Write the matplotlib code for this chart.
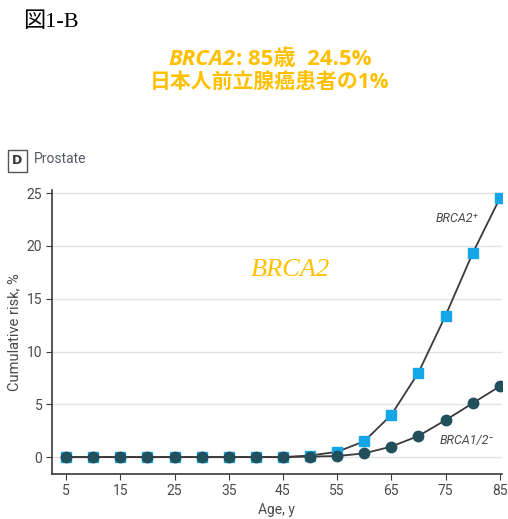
import matplotlib.pyplot as plt

ages = [5, 10, 15, 20, 25, 30, 35, 40, 45, 50, 55, 60, 65, 70, 75, 80, 85]
brca2_pos = [0, 0, 0, 0, 0, 0, 0, 0, 0, 0.15, 0.5, 1.5, 4.0, 8.0, 13.4, 19.3, 24.5]
brca12_neg = [0, 0, 0, 0, 0, 0, 0, 0, 0, 0.05, 0.1, 0.35, 1.0, 2.0, 3.5, 5.1, 6.7]
x_ticks = [5, 15, 25, 35, 45, 55, 65, 75, 85]
y_ticks = [0, 5, 10, 15, 20, 25]

narrow = ['Roboto', 'DejaVu Sans']
head = ['Open Sans', 'Noto Sans CJK JP']
gold = '#ffc000'
grey = '#4a4a4a'

fig = plt.figure(figsize=(5.08, 5.19), dpi=100)
ax = fig.add_axes([0.1024, 0.0867, 0.8856, 0.5473])

ax.plot(ages, brca2_pos, color='#3a3a3a', lw=1.3, marker='s', ms=7.5,
        mfc='#14a6e6', mec='#14a6e6', zorder=3)
ax.plot(ages, brca12_neg, color='#3a3a3a', lw=1.3, marker='o', ms=7.5,
        mfc='#214f5c', mec='#214f5c', zorder=4)

ax.set_xlim(2.4, 85.4)
ax.set_ylim(-1.6, 25.3)
ax.set_xticks(x_ticks)
ax.set_yticks(y_ticks)
for s in ['top', 'right']:
    ax.spines[s].set_visible(False)
for s in ['left', 'bottom']:
    ax.spines[s].set_color('#3a3a3a')
    ax.spines[s].set_linewidth(1.2)
ax.yaxis.grid(True, color='#e3e3e3', lw=1)
ax.set_axisbelow(True)
ax.tick_params(colors='#3a3a3a', labelcolor=grey, length=4, labelsize=10, pad=3)
for lab in ax.get_xticklabels() + ax.get_yticklabels():
    lab.set_family(narrow)
ax.set_xlabel('Age, y', family=narrow, fontsize=10, color=grey, labelpad=4)
ax.set_ylabel('Cumulative risk, %', family=narrow, fontsize=10.5, color=grey, labelpad=4)

ax.text(81, 22.6, 'BRCA2\u207a', family=narrow, style='italic', fontsize=9,
        color=grey, ha='right', va='center')
ax.text(78.9, 1.6, 'BRCA1/2\u207b', family=narrow, style='italic', fontsize=9,
        color=grey, ha='center', va='center')
ax.text(46.3, 17.7, 'BRCA2', family='Liberation Serif', style='italic',
        fontsize=19, color=gold, ha='center', va='center')

# headings above the chart
fig.text(23 / 508, 1 - 22 / 519, '図1-B', family=['Liberation Serif', 'Noto Sans CJK JP'],
         fontsize=16, color='black', ha='left', va='center')
fig.text(236 / 508, 1 - 60 / 519, 'BRCA2', family=head, style='italic',
         weight='bold', fontsize=16, color=gold, ha='right', va='center')
fig.text(236 / 508, 1 - 60 / 519, ': 85歳  24.5%', family=head,
         weight='bold', fontsize=16, color=gold, ha='left', va='center')
fig.text(270 / 508, 1 - 82 / 519, '日本人前立腺癌患者の1%', family=head,
         weight='bold', fontsize=15, color=gold, ha='center', va='center')

fig.text(17 / 508, 1 - 161 / 519, 'D', family='DejaVu Sans', weight='bold',
         fontsize=9, color='#333333', ha='center', va='center',
         bbox=dict(boxstyle='square,pad=0.35', fc='white', ec='#555555', lw=1))
fig.text(34 / 508, 1 - 159 / 519, 'Prostate', family=narrow, fontsize=10,
         color='#555a66', ha='left', va='center')

fig.savefig('out.png', dpi=100)
